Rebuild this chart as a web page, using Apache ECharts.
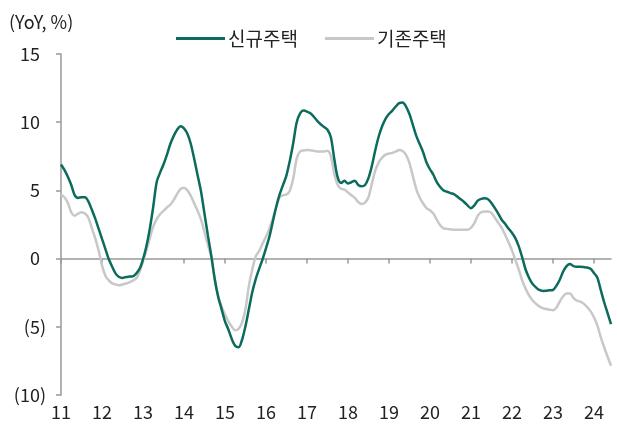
<!DOCTYPE html>
<html>
<head>
<meta charset="utf-8">
<script src="https://cdn.jsdelivr.net/npm/echarts@6/dist/echarts.min.js"></script>
<style>
  html, body { margin: 0; padding: 0; background: #fff; }
  #chart { width: 617px; height: 428px; }
</style>
</head>
<body>
<div id="chart"></div>
<script>
// 연도 라벨 (2011.01 ~ 2024.06, 월별)
const yearLabels = ['11', '12', '13', '14', '15', '16', '17', '18', '19', '20', '21', '22', '23', '24'];
const monthCount = 162;

// 신규주택 YoY (%)
const newHomes = [
  6.9, 6.5, 6.0, 5.4, 4.65, 4.45, 4.5, 4.5, 4.2, 3.6, 2.95, 2.2,
  1.45, 0.7, -0.05, -0.6, -1.1, -1.35, -1.42, -1.35, -1.32, -1.3, -1.1, -0.75,
  -0.05, 0.9, 2.2, 3.8, 5.6, 6.3, 6.9, 7.6, 8.4, 9.0, 9.45, 9.7,
  9.55, 9.15, 8.4, 7.3, 6.1, 4.9, 3.3, 1.7, 0.2, -1.5, -2.8, -3.7,
  -4.6, -5.2, -5.9, -6.4, -6.5, -5.95, -4.95, -3.7, -2.45, -1.5, -0.75, -0.05,
  0.75, 1.6, 2.7, 3.8, 4.7, 5.4, 6.1, 7.2, 8.5, 10.0, 10.65, 10.85,
  10.78, 10.65, 10.4, 10.1, 9.85, 9.65, 9.45, 8.9, 7.3, 5.95, 5.55, 5.7,
  5.5, 5.6, 5.7, 5.4, 5.3, 5.4, 5.9, 6.8, 7.95, 8.95, 9.7, 10.25,
  10.6, 10.85, 11.15, 11.4, 11.45, 11.15, 10.6, 9.8, 9.0, 8.4, 7.8, 7.05,
  6.55, 6.15, 5.6, 5.25, 5.0, 4.9, 4.8, 4.73, 4.55, 4.35, 4.15, 3.9,
  3.7, 3.9, 4.25, 4.38, 4.42, 4.35, 4.08, 3.7, 3.3, 2.85, 2.55, 2.2,
  1.9, 1.5, 0.9, 0.1, -0.8, -1.4, -1.85, -2.1, -2.3, -2.37, -2.36, -2.32,
  -2.3, -2.0, -1.55, -0.95, -0.55, -0.4, -0.55, -0.6, -0.6, -0.62, -0.65, -0.75,
  -1.05, -1.4, -2.3, -3.2, -4.0, -4.8
];

// 기존주택 YoY (%)
const existingHomes = [
  4.7, 4.5, 4.1, 3.4, 3.15, 3.3, 3.4, 3.3, 3.0, 2.25, 1.5, 0.6,
  -0.5, -1.25, -1.6, -1.82, -1.9, -1.95, -1.9, -1.83, -1.75, -1.62, -1.45, -0.98,
  -0.2, 0.6, 1.5, 2.35, 2.9, 3.25, 3.5, 3.75, 3.95, 4.3, 4.75, 5.1,
  5.2, 5.0, 4.6, 4.05, 3.5, 2.85, 1.95, 1.0, 0.1, -1.5, -2.75, -3.5,
  -4.1, -4.6, -5.0, -5.25, -5.15, -4.7, -3.7, -2.0, -0.8, 0.15, 0.55, 1.1,
  1.6, 2.2, 2.95, 3.75, 4.5, 4.65, 4.7, 5.0, 5.9, 7.35, 7.85, 7.93,
  7.97, 7.95, 7.9, 7.85, 7.85, 7.85, 7.9, 7.5, 6.2, 5.4, 5.12, 5.05,
  4.85, 4.65, 4.45, 4.15, 4.0, 4.1, 4.5, 5.5, 6.45, 7.05, 7.4, 7.62,
  7.7, 7.75, 7.85, 7.97, 7.88, 7.6, 7.0, 6.05, 5.1, 4.48, 4.05, 3.7,
  3.55, 3.3, 2.85, 2.45, 2.22, 2.18, 2.15, 2.12, 2.12, 2.12, 2.12, 2.12,
  2.25, 2.6, 3.15, 3.4, 3.46, 3.46, 3.35, 3.0, 2.62, 2.25, 1.75, 1.2,
  0.62, -0.1, -0.8, -1.6, -2.2, -2.7, -3.05, -3.3, -3.5, -3.63, -3.7, -3.75,
  -3.78, -3.6, -3.15, -2.76, -2.55, -2.55, -2.88, -3.08, -3.15, -3.3, -3.55, -3.85,
  -4.3, -4.9, -5.75, -6.5, -7.2, -7.85
];

const categories = [];
for (let i = 0; i < monthCount; i++) {
  const y = yearLabels[Math.floor(i / 12)];
  categories.push(y + '.' + String(i % 12 + 1).padStart(2, '0'));
}

const font = '"Noto Sans CJK KR", "Noto Sans", sans-serif';
const txt = '#222';
const axisGray = '#999';
const everyYear = (idx) => idx % 12 === 0;

const chart = echarts.init(document.getElementById('chart'));
chart.setOption({
  animation: false,
  backgroundColor: '#fff',
  textStyle: { fontFamily: font },
  title: {
    text: '(YoY, %)',
    left: 4, top: 8,
    textStyle: { fontFamily: font, fontSize: 18, fontWeight: 'normal', color: txt },
  },
  legend: {
    top: 24, left: 171,
    itemWidth: 49, itemHeight: 3, itemGap: 27,
    icon: 'rect',
    textStyle: { fontFamily: font, fontSize: 19, color: txt, padding: [0, 0, 0, -2] },
    data: ['신규주택', '기존주택'],
  },
  grid: { left: 61, right: 6, top: 54, bottom: 33 },
  xAxis: [
    {
      // 하단 연도 라벨
      type: 'category',
      data: categories,
      boundaryGap: false,
      position: 'bottom',
      axisLine: { show: false, onZero: false },
      axisTick: { show: false },
      axisLabel: { interval: everyYear, formatter: (v) => v.slice(0, 2), color: txt, fontSize: 18, margin: 8, fontFamily: font },
    },
    {
      // 0 기준선 + 연도 눈금
      type: 'category',
      data: categories,
      boundaryGap: false,
      position: 'bottom',
      axisLine: { onZero: true, lineStyle: { color: axisGray, width: 1.5 } },
      axisTick: { interval: everyYear, length: 5, lineStyle: { color: axisGray, width: 1.5 } },
      axisLabel: { show: false },
    },
  ],
  yAxis: {
    type: 'value',
    min: -10, max: 15, interval: 5,
    axisLine: { show: true, lineStyle: { color: axisGray, width: 1.5 } },
    axisTick: { show: true, length: 5, lineStyle: { color: axisGray, width: 1.5 } },
    splitLine: { show: false },
    axisLabel: {
      color: txt, fontSize: 18, margin: 15, fontFamily: font,
      // 양수는 괄호 폭만큼 오른쪽 여백 (엑셀 회계 서식처럼)
      formatter: (v) => (v < 0 ? '(' + Math.abs(v) + ')' : '{p|' + v + '}'),
      rich: { p: { fontFamily: font, fontSize: 18, color: txt, padding: [0, 6, 0, 0] } },
    },
  },
  series: [
    {
      name: '기존주택',
      type: 'line',
      xAxisIndex: 0,
      data: existingHomes,
      smooth: 0.3,
      symbol: 'none',
      lineStyle: { color: '#c8c8c8', width: 2.5 },
      itemStyle: { color: '#c8c8c8' },
      z: 2,
    },
    {
      name: '신규주택',
      type: 'line',
      xAxisIndex: 0,
      data: newHomes,
      smooth: 0.3,
      symbol: 'none',
      lineStyle: { color: '#0b6b5c', width: 2.5 },
      itemStyle: { color: '#0b6b5c' },
      z: 3,
    },
  ],
});
</script>
</body>
</html>
